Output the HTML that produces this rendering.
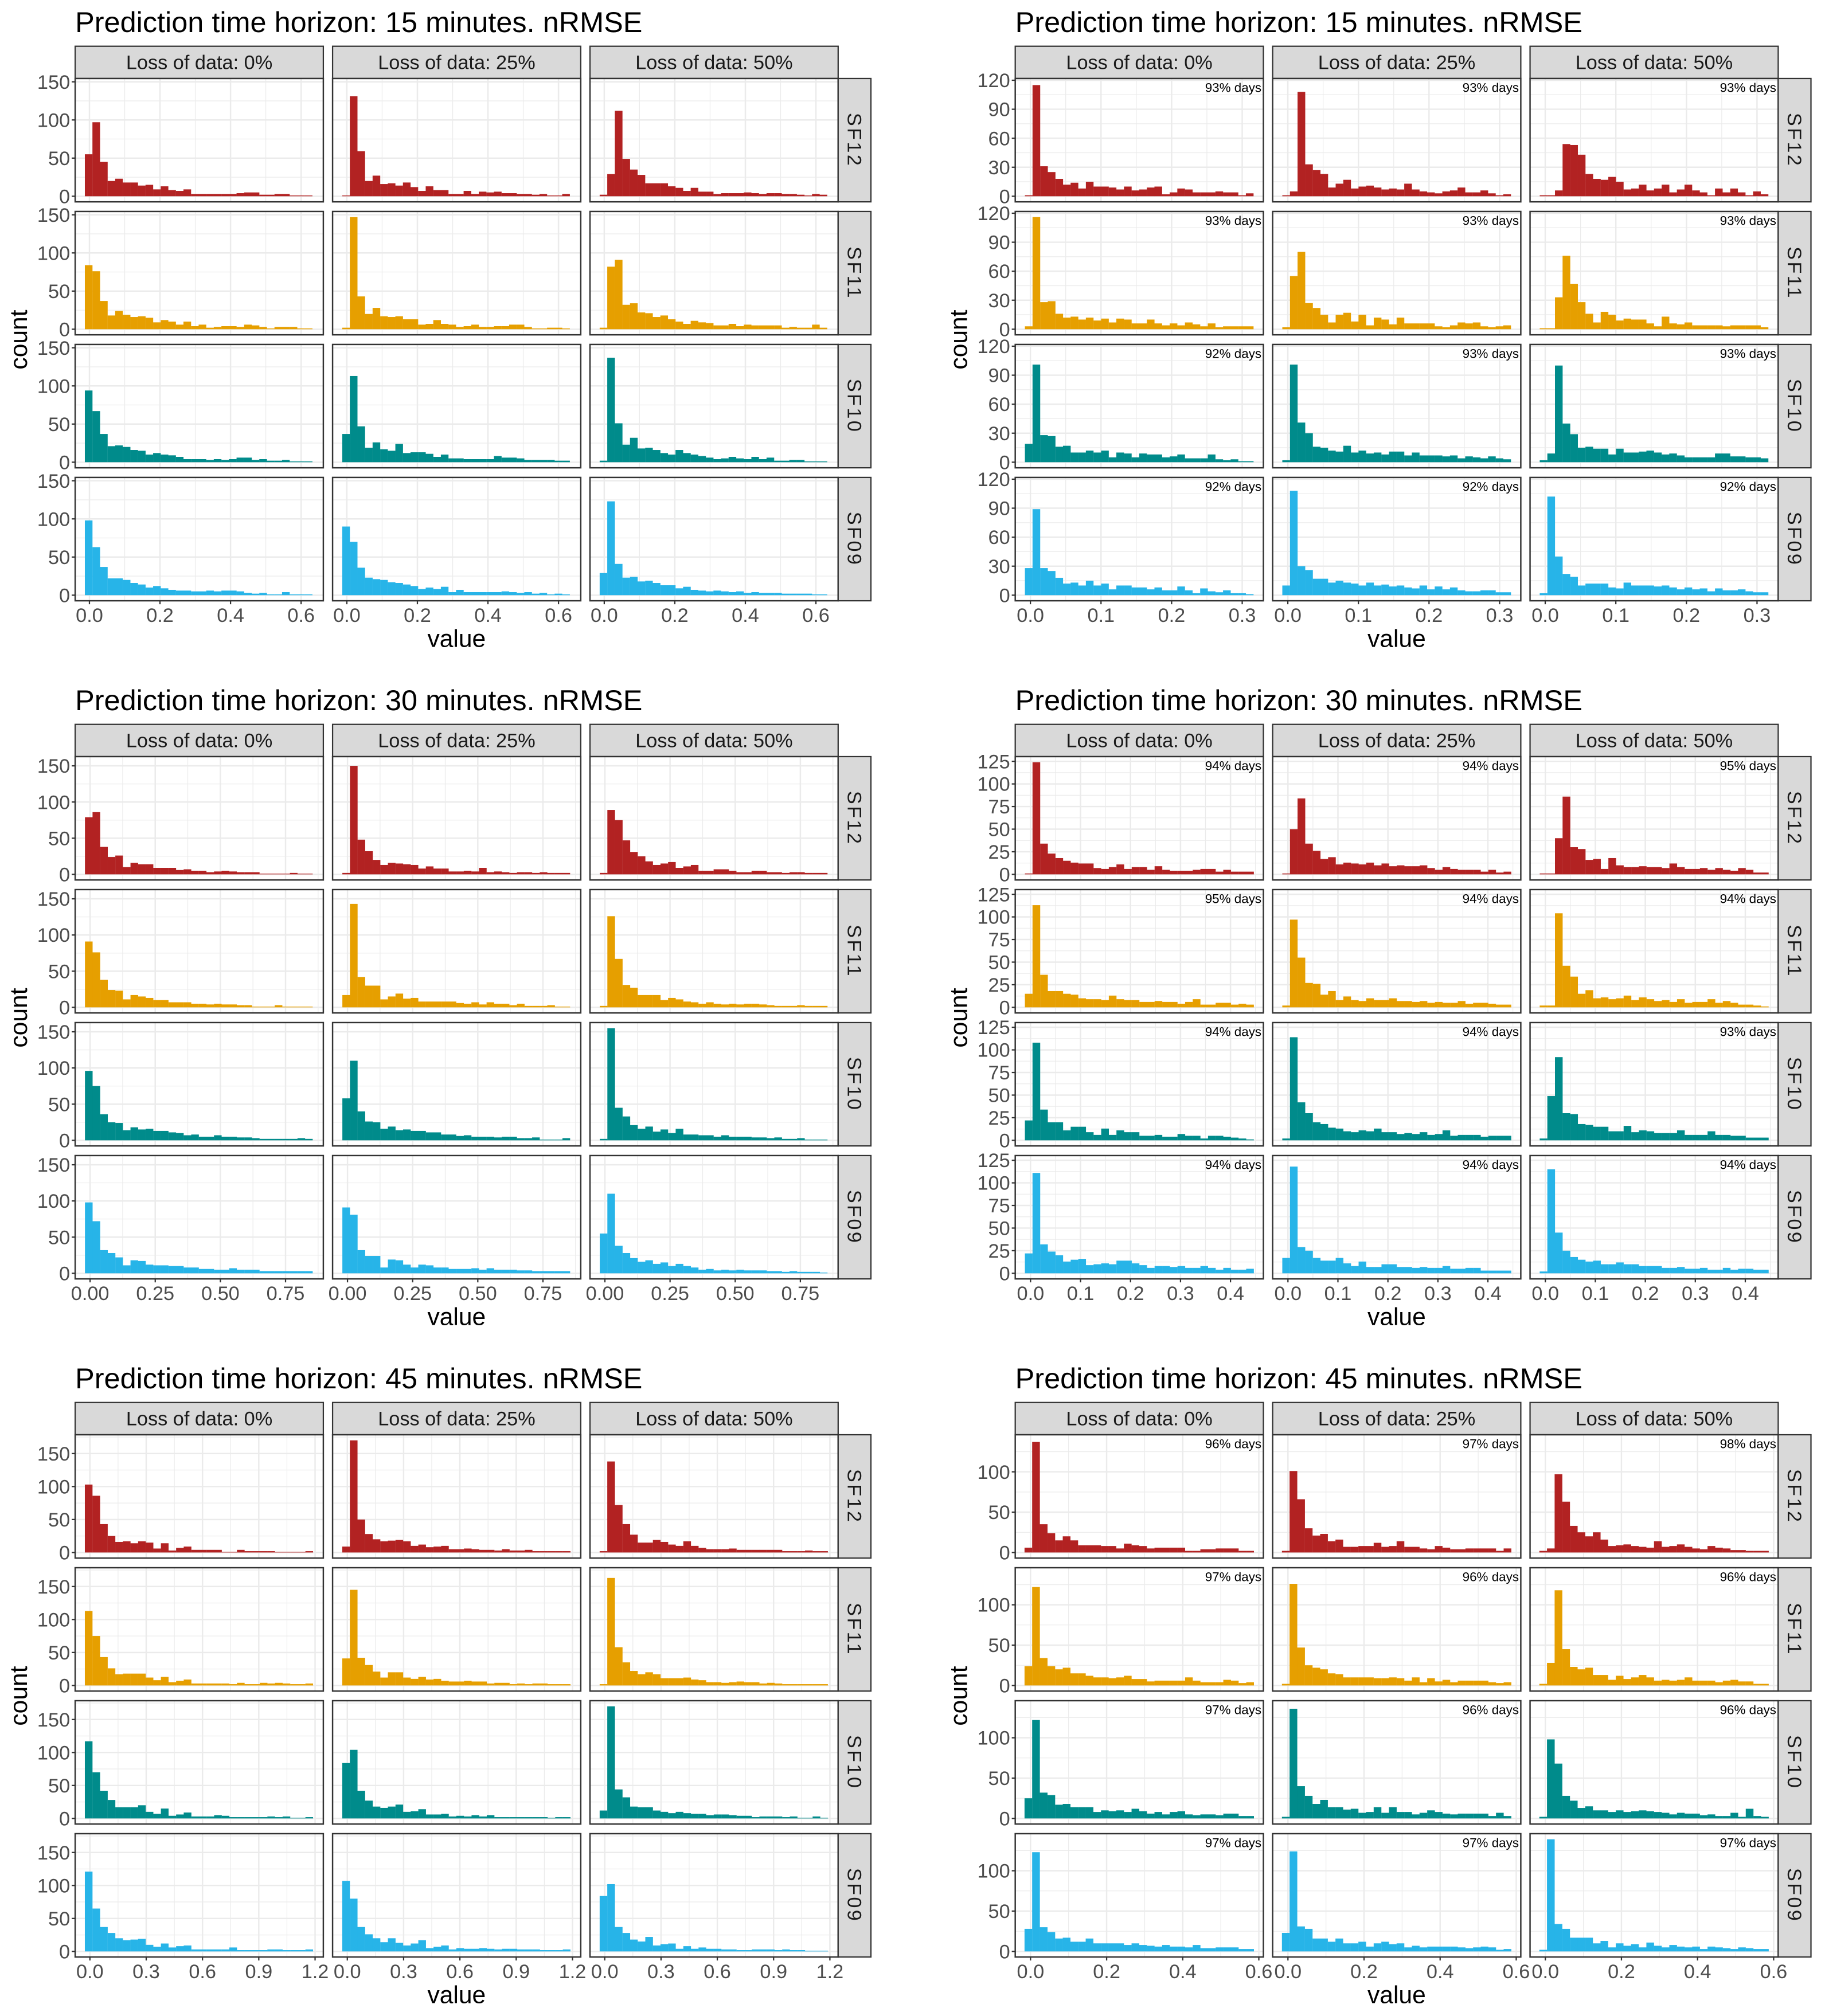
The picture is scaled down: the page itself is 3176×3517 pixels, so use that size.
<!DOCTYPE html>
<html><head><meta charset="utf-8"><style>
html,body{margin:0;padding:0;background:#fff}
svg{display:block;font-family:"Liberation Sans",Arial,sans-serif}
</style></head><body>
<svg id="chart" xmlns="http://www.w3.org/2000/svg" width="3176" height="3517" viewBox="0 0 1417 1569.1" preserveAspectRatio="none"></svg>
<script>
const stations = ['SF12','SF11','SF10','SF09'];
const losses = ['Loss of data: 0%','Loss of data: 25%','Loss of data: 50%'];
const colors = ['#b22222','#e69f00','#008b8b','#27b4e8'];
const panelTitles = ['Prediction time horizon: 15 minutes. nRMSE','Prediction time horizon: 15 minutes. nRMSE','Prediction time horizon: 30 minutes. nRMSE','Prediction time horizon: 30 minutes. nRMSE','Prediction time horizon: 45 minutes. nRMSE','Prediction time horizon: 45 minutes. nRMSE'];
const xTicksA=[0,0.2,0.4,0.6], xLabA=['0.0','0.2','0.4','0.6'];
const xTicksB=[0,0.1,0.2,0.3], xLabB=['0.0','0.1','0.2','0.3'];
const xTicksC=[0,0.25,0.5,0.75], xLabC=['0.00','0.25','0.50','0.75'];
const xTicksD=[0,0.1,0.2,0.3,0.4], xLabD=['0.0','0.1','0.2','0.3','0.4'];
const xTicksE=[0,0.3,0.6,0.9,1.2], xLabE=['0.0','0.3','0.6','0.9','1.2'];
const xTicksF=[0,0.2,0.4,0.6], xLabF=['0.0','0.2','0.4','0.6'];
const yTicksA=[0,50,100,150], yTicksB=[0,30,60,90,120], yTicksC=[0,50,100,150], yTicksD=[0,25,50,75,100,125], yTicksE=[0,50,100,150], yTicksF=[0,50,100];
const xDomainA=[-0.0404,0.663], xDomainB=[-0.0215,0.330], xDomainC=[-0.0572,0.895], xDomainD=[-0.0306,0.4658], xDomainE=[-0.0785,1.244], xDomainF=[-0.0402,0.612];
const binRangeA=[-0.013,0.632], binRangeB=[-0.0078,0.316], binRangeC=[-0.0197,0.854], binRangeD=[-0.0113,0.4466], binRangeE=[-0.027,1.189], binRangeF=[-0.0158,0.587];
const daysB=[['93%','93%','93%'],['93%','93%','93%'],['92%','93%','93%'],['92%','92%','92%']];
const daysD=[['94%','94%','95%'],['95%','94%','94%'],['94%','94%','93%'],['94%','94%','94%']];
const daysF=[['96%','97%','98%'],['97%','96%','96%'],['97%','96%','96%'],['97%','97%','97%']];
const countsA=[
[[55,97,45,20,23,18,18,14,15,9,13,8,7,9,3,3,3,3,3,3,4,5,5,2,2,3,3,1,1,1],[1,131,59,20,27,16,17,14,18,12,7,13,8,8,3,3,7,3,6,5,6,4,4,3,3,2,3,1,1,3],[2,29,112,49,35,28,17,17,17,13,11,7,11,6,6,3,4,4,4,5,4,3,4,4,3,3,2,1,3,2]],
[[84,76,37,18,24,19,16,17,15,9,12,10,6,10,4,6,2,3,4,4,3,6,5,3,1,3,3,3,1,1],[2,147,43,20,28,17,16,17,13,13,6,7,12,7,6,3,4,6,3,3,4,4,6,6,3,1,1,2,2,1],[2,82,91,32,34,22,21,16,18,13,10,7,11,9,8,5,5,7,4,6,5,5,5,5,2,3,2,2,6,2]],
[[94,67,37,21,22,20,16,15,10,12,10,9,7,4,4,4,3,4,3,4,6,6,3,4,2,2,3,1,1,1],[37,113,47,19,26,17,15,24,12,13,13,11,7,10,5,5,4,4,4,4,8,6,6,5,3,3,3,3,2,2],[2,137,51,23,32,18,19,16,12,10,16,12,10,8,6,4,5,7,5,4,7,4,6,2,2,3,3,1,1,1]],
[[98,63,37,22,22,20,16,14,10,12,9,7,6,6,5,5,6,5,6,6,5,3,2,3,1,1,4,1,1,1],[90,70,36,23,21,20,17,16,14,12,8,10,8,11,4,7,4,4,4,4,4,5,4,3,4,2,3,1,2,1],[29,123,41,23,24,18,19,16,13,13,9,11,7,6,5,6,5,4,5,3,4,3,3,3,2,2,2,2,1,1]]];
const countsB=[
[[1,115,31,25,18,12,14,8,15,10,10,9,7,10,6,7,9,10,2,4,8,7,4,4,4,5,4,4,1,3],[1,5,108,33,27,23,9,13,17,8,10,11,9,7,8,7,13,7,5,4,3,5,6,9,4,4,6,3,1,2],[1,1,6,54,53,43,23,18,17,20,15,7,8,12,6,8,12,4,7,12,6,4,1,8,4,8,4,1,5,2]],
[[3,116,28,29,16,12,13,10,12,9,11,7,11,10,6,6,10,6,4,6,4,7,5,3,6,2,3,3,3,3],[2,55,80,27,22,15,7,15,17,8,15,4,12,10,5,12,6,6,6,6,3,2,4,7,6,7,3,2,3,4],[1,1,33,76,47,28,16,7,18,15,9,11,10,10,6,3,13,6,5,7,4,4,4,4,3,4,4,4,4,2]],
[[19,101,28,27,16,17,10,10,12,10,12,5,10,9,5,9,8,8,5,6,8,4,4,4,8,3,2,3,1,1],[2,101,41,30,16,15,12,11,17,10,12,9,10,8,11,11,7,10,7,7,7,6,7,4,6,5,4,6,4,3],[2,9,100,40,29,15,16,14,14,8,14,10,10,11,12,10,8,9,7,5,5,5,5,9,9,6,6,5,5,4]],
[[28,89,28,25,18,12,13,10,15,10,12,6,10,10,8,8,6,8,5,5,9,5,2,7,4,3,5,2,2,1],[10,108,30,26,17,17,13,15,13,12,10,13,10,11,9,10,8,7,10,6,9,6,8,5,4,4,5,5,3,3],[2,102,40,22,19,10,12,12,12,8,7,13,10,10,10,9,10,8,6,8,6,7,4,7,5,5,6,4,3,3]]];
const countsC=[
[[79,86,38,24,26,10,16,14,14,9,9,9,6,7,5,5,3,4,5,4,3,3,3,1,1,1,1,2,1,1],[2,150,48,32,20,13,16,15,14,13,8,11,8,8,4,4,5,4,9,3,4,3,2,3,3,2,3,2,2,2],[2,89,75,47,31,25,18,13,15,17,9,11,13,5,5,7,7,5,3,3,5,5,3,3,2,3,3,2,2,2]],
[[91,76,38,24,23,11,17,15,13,10,10,7,7,7,5,5,4,5,4,4,3,3,1,1,1,3,1,1,1,1],[17,143,42,30,30,11,15,19,12,13,8,8,8,8,8,6,5,7,4,7,5,5,3,5,2,2,2,3,1,1],[2,126,67,31,27,17,17,17,10,13,11,8,7,5,7,5,4,5,4,5,5,4,3,2,2,2,3,2,2,2]],
[[96,75,36,25,24,14,18,15,16,13,13,11,10,7,8,5,5,7,5,5,4,4,3,2,2,2,2,2,3,2],[58,110,40,26,25,16,19,14,15,13,13,11,11,8,8,6,7,5,5,5,4,5,5,3,3,4,1,1,1,3],[2,155,45,33,21,16,19,12,15,10,16,8,8,7,7,5,7,5,5,5,4,4,3,4,2,2,3,1,1,1]],
[[98,72,32,28,22,11,18,17,12,11,11,10,10,8,8,6,6,5,5,7,5,5,5,3,3,3,3,3,3,3],[91,81,32,24,24,8,19,18,12,8,12,11,8,8,6,6,6,7,5,7,5,5,5,4,4,3,3,3,3,3],[55,110,38,28,21,16,18,13,15,10,13,10,8,5,6,4,5,4,5,4,4,4,3,3,2,3,2,2,2,1]]];
const countsD=[
[[1,124,34,23,18,15,13,12,12,7,6,8,11,6,8,8,5,9,5,4,4,4,5,6,6,3,5,3,3,3],[1,50,84,34,26,17,19,11,13,12,11,13,10,12,9,10,9,9,10,7,5,8,6,5,5,5,3,5,2,3],[1,1,40,86,30,28,16,17,6,18,10,8,8,9,8,8,7,12,8,6,6,7,5,7,5,4,7,5,2,2]],
[[15,113,36,18,18,15,14,10,9,9,8,13,9,8,8,6,6,7,6,6,4,6,9,3,3,5,5,3,4,3],[2,97,55,27,26,14,18,8,12,8,7,10,8,8,10,7,7,6,7,5,6,5,5,7,4,5,5,4,3,3],[2,2,104,46,34,15,19,10,11,9,10,13,8,11,9,7,8,6,9,5,6,6,9,5,7,5,3,3,2,1]],
[[22,108,34,20,20,11,15,15,9,6,13,6,11,9,9,5,5,6,4,4,7,5,5,2,5,5,4,3,2,1],[2,114,42,30,20,18,14,13,10,9,11,10,13,9,9,7,8,7,9,6,7,11,5,6,6,6,4,5,5,5],[2,49,92,30,29,18,17,15,15,10,10,16,9,11,10,8,8,8,11,6,6,6,10,6,6,5,5,3,3,3]],
[[22,111,32,24,20,13,15,16,9,10,11,10,14,14,11,9,6,8,8,7,8,6,6,8,6,4,6,4,4,5],[17,118,29,25,17,14,14,17,11,8,13,7,7,10,10,7,7,6,7,6,6,8,5,5,6,6,3,3,3,3],[2,115,45,25,18,15,13,14,10,10,12,10,10,8,8,8,6,6,7,5,5,6,4,4,6,4,5,5,4,4]]];
const countsE=[
[[103,86,43,25,16,17,14,17,15,6,14,3,7,9,4,4,4,4,1,1,4,2,2,2,2,1,1,1,1,2],[9,170,50,28,20,17,18,19,17,10,12,8,9,10,5,5,6,5,4,4,3,5,3,3,4,2,2,2,2,2],[2,138,72,43,27,15,15,19,16,12,10,17,10,7,5,5,5,6,4,4,4,4,4,4,2,2,2,3,2,2]],
[[113,75,43,26,17,18,18,18,12,8,13,5,7,9,3,3,3,3,3,2,4,2,2,4,3,4,3,2,2,3],[41,145,42,31,21,12,20,20,12,10,13,9,10,7,6,6,7,6,6,3,4,4,2,3,2,3,3,2,2,2],[2,163,58,35,22,17,20,17,11,11,11,12,9,8,5,5,4,5,6,5,5,3,4,3,2,2,2,2,2,2]],
[[117,70,42,28,17,17,17,20,10,7,15,4,6,9,3,3,3,5,4,2,2,2,2,2,3,2,3,1,1,2],[84,104,42,27,18,16,18,21,10,11,14,6,6,7,3,4,3,5,3,5,2,2,2,2,2,2,2,1,2,2],[12,170,44,32,18,17,17,12,10,8,10,8,7,7,5,6,6,5,4,4,2,3,3,3,2,3,1,1,3,1]],
[[121,65,37,28,20,17,18,19,10,7,12,6,8,9,3,3,3,3,3,6,2,2,2,2,3,3,2,2,2,3],[107,80,37,26,20,14,20,13,9,12,17,5,7,9,3,5,4,4,5,4,3,4,4,3,3,3,2,2,2,3],[84,102,37,28,18,15,22,9,11,12,4,8,4,6,4,4,3,3,2,2,3,3,3,2,3,2,2,1,1,1]]];
const countsF=[
[[6,137,35,24,15,20,15,9,9,9,8,8,5,11,9,8,5,6,6,6,6,2,2,4,4,5,5,5,2,2],[2,101,66,30,21,23,14,16,7,7,8,8,12,7,8,14,7,7,5,4,8,6,4,4,5,5,5,5,2,5],[2,5,97,63,33,25,20,25,16,8,9,10,8,7,6,14,7,8,10,7,5,4,8,6,5,3,3,2,2,2]],
[[24,122,34,24,20,22,15,15,12,10,10,9,10,12,8,8,5,6,6,6,6,10,6,4,4,4,7,6,3,4],[2,126,47,25,22,20,15,14,10,10,10,10,9,9,10,9,6,10,4,9,5,7,4,6,6,6,6,4,3,4],[2,28,118,45,23,20,22,13,13,7,12,8,10,13,10,6,7,6,7,10,6,6,6,4,6,7,5,5,2,2]],
[[25,122,32,29,17,18,14,14,14,8,10,9,10,8,12,9,6,8,5,8,9,5,4,5,5,4,6,6,3,3],[2,136,40,28,18,23,14,14,11,12,7,8,14,7,14,8,8,5,7,10,8,6,5,6,6,6,6,3,7,3],[2,98,68,28,22,13,15,10,10,8,10,8,9,10,9,8,7,5,7,6,6,4,5,3,3,7,2,12,3,2]],
[[28,123,30,24,16,17,12,12,16,10,10,10,10,8,10,8,7,6,8,6,6,5,8,4,4,5,5,5,3,3],[23,124,31,28,16,16,12,16,10,10,12,6,10,12,9,10,5,7,5,6,6,6,6,5,4,5,6,5,2,3],[2,139,34,28,17,17,17,10,13,5,10,7,9,5,11,7,5,8,6,5,6,3,6,5,4,3,5,4,3,3]]];

const NS='http://www.w3.org/2000/svg';
const svg=document.getElementById('chart');
function mk(tag,parent){const e=document.createElementNS(NS,tag);parent.appendChild(e);return e;}
function at(e,o){for(const k in o)e.setAttribute(k,o[k]);return e;}
const FW=193.1, FH=96, CSTEP=200.3, RSTEP=103.5;
const panels=[
 {counts:countsA,xt:xTicksA,xl:xLabA,yt:yTicksA,xd:xDomainA,br:binRangeA,days:null,bx:58.5,oy:0},
 {counts:countsB,xt:xTicksB,xl:xLabB,yt:yTicksB,xd:xDomainB,br:binRangeB,days:daysB,bx:790,oy:0},
 {counts:countsC,xt:xTicksC,xl:xLabC,yt:yTicksC,xd:xDomainC,br:binRangeC,days:null,bx:58.5,oy:527.8},
 {counts:countsD,xt:xTicksD,xl:xLabD,yt:yTicksD,xd:xDomainD,br:binRangeD,days:daysD,bx:790,oy:527.8},
 {counts:countsE,xt:xTicksE,xl:xLabE,yt:yTicksE,xd:xDomainE,br:binRangeE,days:null,bx:58.5,oy:1055.6},
 {counts:countsF,xt:xTicksF,xl:xLabF,yt:yTicksF,xd:xDomainF,br:binRangeF,days:daysF,bx:790,oy:1055.6}];
function minors(t,lo,hi){const s=t[1]-t[0];const out=[];for(let v=t[0]-s/2;v<=t[t.length-1]+s;v+=s){if(v>lo&&v<hi)out.push(v);}return out;}
panels.forEach((P,pi)=>{
 const g=mk('g',svg);
 
 
 let M=0;P.counts.forEach(r=>r.forEach(a=>a.forEach(v=>{if(v>M)M=v;})));
 const y0=-0.05*M,y1=1.05*M;
 const t=at(mk('text',g),{x:P.bx,y:P.oy+25,'font-size':22.5,fill:'#000'});t.textContent=panelTitles[pi];
 
 
 losses.forEach((L,c)=>{
  const sx=P.bx+c*CSTEP;
  const sr=at(mk('rect',g),{x:sx,y:P.oy+36,width:FW,height:25.1,fill:'#d9d9d9',stroke:'#333',"stroke-width":1});
  
  
  const st=at(mk('text',g),{x:sx+FW/2,y:P.oy+53.8,'font-size':15.3,fill:'#1a1a1a','text-anchor':'middle'});st.textContent=L;
  
  
 });
 const xmin=minors(P.xt,P.xd[0],P.xd[1]), ymin=minors(P.yt,y0,y1);
 stations.forEach((S,r)=>{
  const ty=P.oy+61.1+r*RSTEP;
  const ys=v=>ty+FH-(v-y0)/(y1-y0)*FH;
  for(let c=0;c<3;c++){
   const fx=P.bx+c*CSTEP;
   const xs=v=>fx+(v-P.xd[0])/(P.xd[1]-P.xd[0])*FW;
   const fg=mk('g',g);
   
   
   at(mk('rect',fg),{x:fx,y:ty,width:FW,height:FH,fill:'#fff'});
   xmin.forEach(v=>at(mk('line',fg),{x1:xs(v),x2:xs(v),y1:ty,y2:ty+FH,stroke:'#ebebeb','stroke-width':0.55}));
   ymin.forEach(v=>at(mk('line',fg),{x1:fx,x2:fx+FW,y1:ys(v),y2:ys(v),stroke:'#ebebeb','stroke-width':0.55}));
   P.xt.forEach(v=>at(mk('line',fg),{x1:xs(v),x2:xs(v),y1:ty,y2:ty+FH,stroke:'#ebebeb','stroke-width':1.1}));
   P.yt.forEach(v=>at(mk('line',fg),{x1:fx,x2:fx+FW,y1:ys(v),y2:ys(v),stroke:'#ebebeb','stroke-width':1.1}));
   const data=P.counts[r][c];const bw=(P.br[1]-P.br[0])/data.length;
   data.forEach((v,i)=>{
    const xa=xs(P.br[0]+i*bw),xb=xs(P.br[0]+(i+1)*bw);
    const b=at(mk('rect',fg),{x:xa,y:ys(v),width:xb-xa+0.05,height:Math.max(0,ys(0)-ys(v)),fill:colors[r]});
    
    
   });
   if(P.days){const d=at(mk('text',fg),{x:fx+FW-1.5,y:ty+10.5,'font-size':10,fill:'#000','text-anchor':'end'});d.textContent=P.days[r][c]+' days';
    
    }
   at(mk('rect',fg),{x:fx,y:ty,width:FW,height:FH,fill:'none',stroke:'#333','stroke-width':1.1});
   if(c===0){P.yt.forEach(v=>{at(mk('line',g),{x1:fx-2.7,x2:fx,y1:ys(v),y2:ys(v),stroke:'#333','stroke-width':1});
     const yl=at(mk('text',g),{x:fx-4,y:ys(v)+5.4,'font-size':15.3,fill:'#4d4d4d','text-anchor':'end'});yl.textContent=v;
     
     });}
   if(r===3){P.xt.forEach((v,k)=>{at(mk('line',g),{x1:xs(v),x2:xs(v),y1:ty+FH,y2:ty+FH+2.7,stroke:'#333','stroke-width':1});
     const xl=at(mk('text',g),{x:xs(v),y:ty+FH+16.5,'font-size':15.3,fill:'#4d4d4d','text-anchor':'middle'});xl.textContent=P.xl[k];
     
     });}
  }
  const rx=P.bx+2*CSTEP+FW;
  const rs=at(mk('rect',g),{x:rx,y:ty,width:25.5,height:FH,fill:'#d9d9d9',stroke:'#333','stroke-width':1});
  
  
  const rt=at(mk('text',g),{x:0,y:0,'font-size':15.3,fill:'#1a1a1a','text-anchor':'middle','letter-spacing':1.5,transform:'translate('+(rx+12.75-5.4)+','+(ty+FH/2)+') rotate(90)'});rt.textContent=S;
  
  
 });
 const vx=at(mk('text',g),{x:P.bx+296.8,y:P.oy+503.5,'font-size':19,fill:'#000','text-anchor':'middle'});vx.textContent='value';
 
 
 const cy=P.oy+61.1+(3*RSTEP+FH)/2;
 const ct=at(mk('text',g),{x:0,y:0,'font-size':19,fill:'#000','text-anchor':'middle',transform:'translate('+(P.bx-37.5)+','+cy+') rotate(-90)'});ct.textContent='count';
 
 
});
</script>
</body></html>
